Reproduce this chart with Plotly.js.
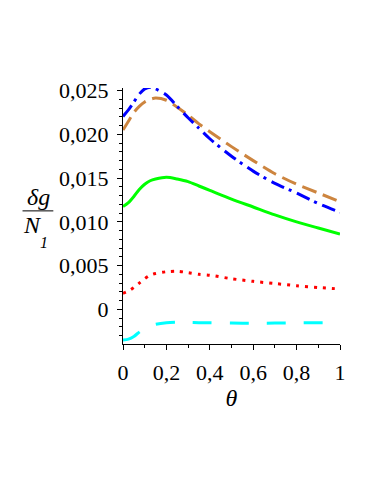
<!DOCTYPE html>
<html>
<head>
<meta charset="utf-8">
<script src="https://cdn.plot.ly/plotly-3.0.1.min.js"></script>
<style>
  html, body { margin: 0; padding: 0; background: #fff; font-family: 'Liberation Serif'; }
  #plot { width: 374px; height: 484px; }
</style>
</head>
<body>
<div id="plot"></div>
<script>
// theta sample points
const theta = [0, 0.025, 0.05, 0.075, 0.1, 0.125, 0.15, 0.2, 0.25, 0.3, 0.35, 0.4, 0.5, 0.6, 0.7, 0.8, 0.9, 1];

const blueDashDot = [0.02205, 0.0228, 0.0237, 0.0246, 0.0252, 0.0254, 0.0252, 0.0245, 0.0232, 0.0219, 0.0207, 0.0195, 0.0175, 0.0158, 0.0144, 0.0133, 0.0121, 0.0111];
const orangeDash  = [0.0205, 0.0215, 0.0225, 0.0232, 0.0237, 0.0240, 0.02415, 0.0239, 0.0231, 0.0222, 0.0212, 0.0203, 0.0186, 0.0170, 0.0155, 0.0143, 0.0133, 0.0123];
const greenSolid  = [0.01175, 0.0122, 0.0129, 0.0137, 0.0143, 0.0147, 0.0149, 0.0151, 0.0149, 0.0146, 0.0141, 0.0136, 0.0126, 0.0117, 0.0108, 0.0100, 0.0093, 0.0086];
const redDot      = [0.00184, 0.0021, 0.0025, 0.0030, 0.0035, 0.0039, 0.0041, 0.0043, 0.00435, 0.0042, 0.0040, 0.0039, 0.0035, 0.0032, 0.00295, 0.0027, 0.0025, 0.00233];
const cyanLong    = [-0.0035, -0.0034, -0.0031, -0.0026, -0.0022, -0.0019, -0.0017, -0.00152, -0.00147, -0.0015, -0.00152, -0.00154, -0.00157, -0.00158, -0.00157, -0.00155, -0.00153, -0.00153];

const yTickVals = [0, 0.005, 0.01, 0.015, 0.02, 0.025];
const yTickText = ['0', '0,005', '0,010', '0,015', '0,020', '0,025'];

const serif = 'Liberation Serif';

function curve(y, color, dash) {
  return {
    x: theta, y: y, type: 'scatter', mode: 'lines',
    line: {color: color, width: 3, dash: dash, shape: 'spline', smoothing: 0.8},
    hoverinfo: 'skip'
  };
}

function draw() {
  const traces = [
    curve(cyanLong, '#00ffff', '19px,18px'),
    curve(redDot, '#ff0000', '3px,6px'),
    curve(greenSolid, '#00ff00', 'solid'),
    curve(orangeDash, '#cd853f', '15px,7px'),
    curve(blueDashDot, '#0000ff', '14px,5px,3px,6px'),
  ];

  const layout = {
    width: 374, height: 484,
    margin: {l: 123, r: 34, t: 88, b: 140},
    paper_bgcolor: '#fff', plot_bgcolor: '#fff',
    showlegend: false,
    separators: ', ',
    font: {family: serif, size: 22, color: '#000'},
    xaxis: {
      range: [0, 1], automargin: false,
      showgrid: false, zeroline: false,
      showline: true, linecolor: '#000', linewidth: 1,
      ticks: 'outside', ticklen: 5, tickcolor: '#000', tickwidth: 1,
      tick0: 0, dtick: 0.2, ticklabelstandoff: 4,
      tickfont: {family: serif, size: 22, color: '#000'},
      minor: {dtick: 0.1, ticks: 'outside', ticklen: 3, tickcolor: '#000'},
      title: {text: '<i>θ</i>', standoff: 4, font: {family: serif, size: 24, color: '#000'}},
    },
    yaxis: {
      range: [-0.00396, 0.0253], automargin: false,
      showgrid: false, zeroline: false,
      showline: true, linecolor: '#000', linewidth: 1,
      ticks: 'outside', ticklen: 5, tickcolor: '#000', tickwidth: 1,
      tickmode: 'array', tickvals: yTickVals, ticktext: yTickText,
      ticklabelstandoff: 4,
      tickfont: {family: serif, size: 22, color: '#000'},
      minor: {dtick: 0.001, ticks: 'outside', ticklen: 3, tickcolor: '#000'},
    },
    annotations: [
      {xref: 'paper', yref: 'paper', x: -0.39, y: 0.574, text: '<i>δg</i>', showarrow: false,
       font: {family: serif, size: 24, color: '#000'}, xanchor: 'center', yanchor: 'middle'},
      {xref: 'paper', yref: 'paper', x: -0.415, y: 0.465, text: '<i>N</i>', showarrow: false,
       font: {family: serif, size: 24, color: '#000'}, xanchor: 'center', yanchor: 'middle'},
      {xref: 'paper', yref: 'paper', x: -0.366, y: 0.395, text: '<i>1</i>', showarrow: false,
       font: {family: serif, size: 16, color: '#000'}, xanchor: 'center', yanchor: 'middle'},
    ],
    shapes: [
      {type: 'line', xref: 'paper', yref: 'paper', x0: -0.463, x1: -0.321, y0: 0.52, y1: 0.52,
       line: {color: '#000', width: 1}},
    ],
  };

  Plotly.newPlot('plot', traces, layout, {displayModeBar: false, staticPlot: true});
}

// make sure the serif face is ready before plotly measures its text
Promise.all([
  document.fonts.load('22px "Liberation Serif"'),
  document.fonts.load('italic 24px "Liberation Serif"'),
]).then(draw, draw);
</script>
</body>
</html>
